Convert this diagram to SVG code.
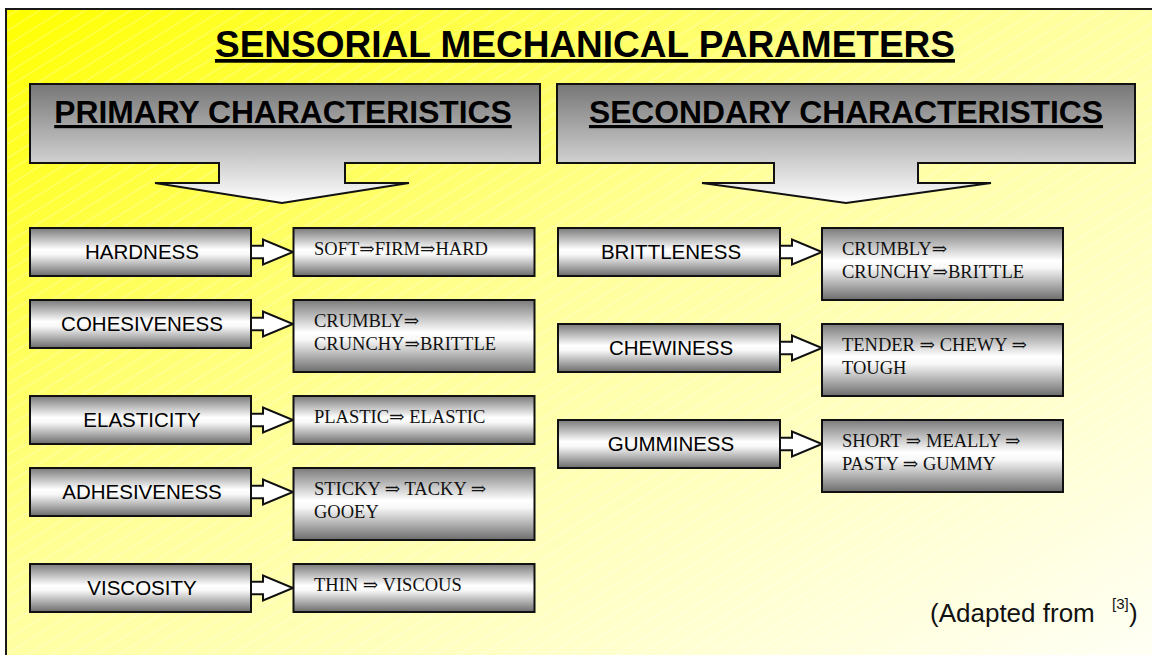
<svg xmlns="http://www.w3.org/2000/svg" width="1152" height="655" viewBox="0 0 1152 655">
<defs>
<linearGradient id="bg" x1="0" y1="0" x2="1" y2="1">
<stop offset="0" stop-color="#ffff00"/>
<stop offset="0.45" stop-color="#ffff9c"/>
<stop offset="1" stop-color="#fffff8"/>
</linearGradient>
<pattern id="stripes" width="12" height="12" patternUnits="userSpaceOnUse" patternTransform="rotate(-32)">
<line x1="0" y1="6" x2="12" y2="6" stroke="#ffffff" stroke-width="1" stroke-opacity="0.35"/>
</pattern>
<linearGradient id="hdr" x1="0" y1="84" x2="0" y2="203" gradientUnits="userSpaceOnUse">
<stop offset="0" stop-color="#767676"/>
<stop offset="1" stop-color="#ffffff"/>
</linearGradient>
<linearGradient id="cyl" x1="0" y1="0" x2="0" y2="1">
<stop offset="0" stop-color="#7a7a7a"/>
<stop offset="0.45" stop-color="#ffffff"/>
<stop offset="0.55" stop-color="#f8f8f8"/>
<stop offset="1" stop-color="#6c6c6c"/>
</linearGradient>
<style>
.box{fill:url(#cyl);stroke:#111;stroke-width:2}
.hbox{fill:url(#hdr);stroke:#111;stroke-width:2}
.arr{fill:#ffffff;stroke:#111;stroke-width:2;stroke-linejoin:miter}
.lt{font-family:"Liberation Sans",Arial,sans-serif;font-size:20.5px;fill:#000;text-anchor:middle}
.rt{font-family:"Liberation Serif","DejaVu Serif",serif;font-size:18.5px;fill:#111}
.ht{font-family:"Liberation Sans",Arial,sans-serif;font-weight:bold;font-size:31.8px;fill:#000;text-anchor:middle;text-decoration:underline}
</style>
</defs>
<rect x="0" y="0" width="1152" height="655" fill="#ffffff"/>
<rect x="6" y="9" width="1160" height="660" fill="url(#bg)"/>
<rect x="6" y="9" width="1160" height="660" fill="url(#stripes)"/>
<rect x="6" y="9" width="1160" height="660" fill="none" stroke="#1a1a1a" stroke-width="2"/>

<text x="585" y="57" font-family="Liberation Sans, Arial, sans-serif" font-weight="bold" font-size="37" text-anchor="middle" text-decoration="underline" fill="#000">SENSORIAL MECHANICAL PARAMETERS</text>

<g id="primary">
<path class="hbox" d="M30,84 H540 V163 H345 V183 H409 L282,203 L155,183 H219 V163 H30 Z"/>
<text class="ht" x="283" y="123">PRIMARY CHARACTERISTICS</text>
</g>
<g id="secondary">
<path class="hbox" d="M557,84 H1135 V163 H918 V183 H991 L846,203 L702,183 H774 V163 H557 Z"/>
<text class="ht" x="846" y="123">SECONDARY CHARACTERISTICS</text>
</g>

<g id="connectors">
<path class="arr" d="M251,245.7 H263 V239.5 L293,252 L263,264.5 V258.3 H251"/>
<path class="arr" d="M251,317.7 H263 V311.5 L293,324 L263,336.5 V330.3 H251"/>
<path class="arr" d="M251,413.7 H263 V407.5 L293,420 L263,432.5 V426.3 H251"/>
<path class="arr" d="M251,485.7 H263 V479.5 L293,492 L263,504.5 V498.3 H251"/>
<path class="arr" d="M251,581.7 H263 V575.5 L293,588 L263,600.5 V594.3 H251"/>
<path class="arr" d="M780,245.7 H792 V239.5 L822,252 L792,264.5 V258.3 H780"/>
<path class="arr" d="M780,341.7 H792 V335.5 L822,348 L792,360.5 V354.3 H780"/>
<path class="arr" d="M780,437.7 H792 V431.5 L822,444 L792,456.5 V450.3 H780"/>
</g>

<g id="hardness"><rect class="box" x="30" y="228" width="221" height="48"/><text class="lt" x="142" y="259">HARDNESS</text></g>
<g id="hardness-scale"><rect class="box" x="293.5" y="228" width="241" height="48"/><text class="rt" x="314" y="255">SOFT⇒FIRM⇒HARD</text></g>

<g id="cohesiveness"><rect class="box" x="30" y="300" width="221" height="48"/><text class="lt" x="142" y="331">COHESIVENESS</text></g>
<g id="cohesiveness-scale"><rect class="box" x="293.5" y="300" width="241" height="72"/><text class="rt" x="314" y="327">CRUMBLY⇒</text><text class="rt" x="314" y="350">CRUNCHY⇒BRITTLE</text></g>

<g id="elasticity"><rect class="box" x="30" y="396" width="221" height="48"/><text class="lt" x="142" y="427">ELASTICITY</text></g>
<g id="elasticity-scale"><rect class="box" x="293.5" y="396" width="241" height="48"/><text class="rt" x="314" y="423">PLASTIC⇒ ELASTIC</text></g>

<g id="adhesiveness"><rect class="box" x="30" y="468" width="221" height="48"/><text class="lt" x="142" y="499">ADHESIVENESS</text></g>
<g id="adhesiveness-scale"><rect class="box" x="293.5" y="468" width="241" height="72"/><text class="rt" x="314" y="495">STICKY ⇒ TACKY ⇒</text><text class="rt" x="314" y="518">GOOEY</text></g>

<g id="viscosity"><rect class="box" x="30" y="564" width="221" height="48"/><text class="lt" x="142" y="595">VISCOSITY</text></g>
<g id="viscosity-scale"><rect class="box" x="293.5" y="564" width="241" height="48"/><text class="rt" x="314" y="591">THIN ⇒ VISCOUS</text></g>

<g id="brittleness"><rect class="box" x="558" y="228" width="222" height="48"/><text class="lt" x="671" y="259">BRITTLENESS</text></g>
<g id="brittleness-scale"><rect class="box" x="822" y="228" width="241" height="72"/><text class="rt" x="842" y="255">CRUMBLY⇒</text><text class="rt" x="842" y="278">CRUNCHY⇒BRITTLE</text></g>

<g id="chewiness"><rect class="box" x="558" y="324" width="222" height="48"/><text class="lt" x="671" y="355">CHEWINESS</text></g>
<g id="chewiness-scale"><rect class="box" x="822" y="324" width="241" height="72"/><text class="rt" x="842" y="351">TENDER ⇒ CHEWY ⇒</text><text class="rt" x="842" y="374">TOUGH</text></g>

<g id="gumminess"><rect class="box" x="558" y="420" width="222" height="48"/><text class="lt" x="671" y="451">GUMMINESS</text></g>
<g id="gumminess-scale"><rect class="box" x="822" y="420" width="241" height="72"/><text class="rt" x="842" y="447">SHORT ⇒ MEALLY ⇒</text><text class="rt" x="842" y="470">PASTY ⇒ GUMMY</text></g>

<g id="footer">
<text font-family="Liberation Sans, Arial, sans-serif" font-size="26" fill="#111" y="622"><tspan x="930">(Adapted from</tspan><tspan x="1112" y="609" font-size="15">[3]</tspan><tspan x="1129" y="622">)</tspan></text>
</g>
</svg>
